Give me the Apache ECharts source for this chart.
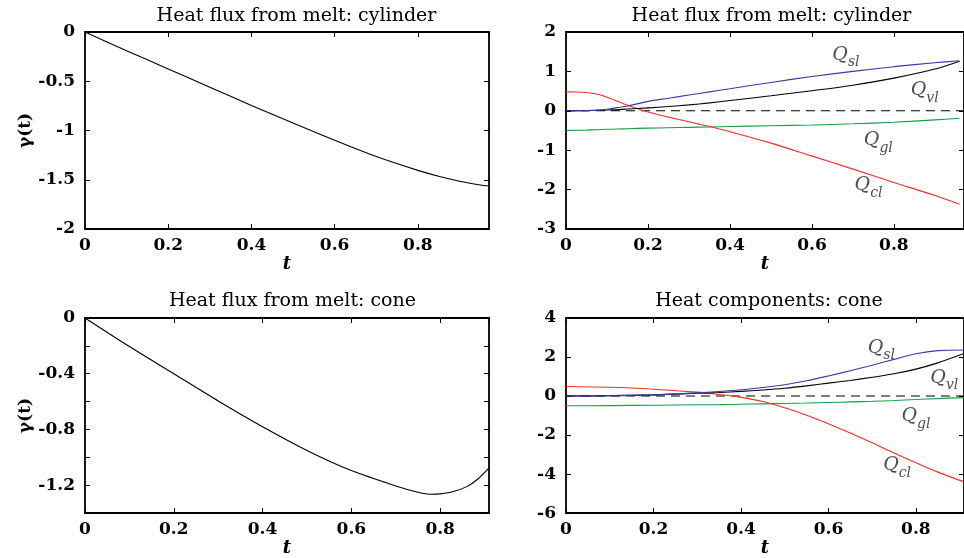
<!DOCTYPE html>
<html>
<head>
<meta charset="utf-8">
<script src="https://cdn.jsdelivr.net/npm/echarts@6/dist/echarts.min.js"></script>
<style>
  html, body { margin: 0; padding: 0; background: #fff; }
  #chart { width: 964px; height: 558px; }
</style>
</head>
<body>
<div id="chart"></div>
<script>
// ---- Heat flux from melt: cylinder (gamma) ----
const tCylGamma = [0, 0.1, 0.2, 0.3, 0.4, 0.5, 0.6, 0.7, 0.8, 0.85, 0.9, 0.95, 0.97];
const gammaCyl  = [0, -0.19, -0.375, -0.56, -0.745, -0.925, -1.10, -1.265, -1.405, -1.465, -1.515, -1.553, -1.563];

// ---- Heat flux from melt: cone (gamma) ----
const tConeGamma = [0, 0.1, 0.2, 0.3, 0.4, 0.5, 0.6, 0.7, 0.75, 0.78, 0.8, 0.83, 0.86, 0.885, 0.91];
const gammaCone  = [0, -0.205, -0.40, -0.595, -0.78, -0.95, -1.095, -1.205, -1.25, -1.265, -1.262, -1.245, -1.21, -1.155, -1.075];

// ---- Heat components: cylinder ----
const tCylQ = [0, 0.025, 0.05, 0.075, 0.1, 0.125, 0.15, 0.2, 0.25, 0.3, 0.35, 0.4, 0.5, 0.6, 0.7, 0.8, 0.9, 0.96];
const qslCyl = [0, 0.001, 0.005, 0.018, 0.04, 0.08, 0.12, 0.24, 0.32, 0.40, 0.48, 0.56, 0.72, 0.87, 1.00, 1.12, 1.22, 1.27];
const qvlCyl = [0, 0.001, 0.003, 0.01, 0.02, 0.03, 0.045, 0.075, 0.11, 0.15, 0.2, 0.26, 0.38, 0.51, 0.65, 0.83, 1.06, 1.26];
const qglCyl = [-0.50, -0.495, -0.49, -0.48, -0.47, -0.463, -0.455, -0.44, -0.43, -0.42, -0.41, -0.40, -0.38, -0.36, -0.33, -0.29, -0.23, -0.19];
const qclCyl = [0.48, 0.478, 0.465, 0.425, 0.345, 0.245, 0.14, -0.03, -0.16, -0.28, -0.40, -0.53, -0.82, -1.15, -1.48, -1.82, -2.15, -2.37];

// ---- Heat components: cone ----
const tConeQ = [0, 0.1, 0.2, 0.3, 0.35, 0.4, 0.45, 0.5, 0.55, 0.6, 0.65, 0.7, 0.75, 0.8, 0.85, 0.91];
const qslCone = [0, 0.02, 0.06, 0.16, 0.23, 0.32, 0.44, 0.58, 0.78, 1.03, 1.30, 1.58, 1.88, 2.17, 2.33, 2.36];
const qvlCone = [0, 0.02, 0.06, 0.14, 0.18, 0.24, 0.31, 0.40, 0.52, 0.66, 0.80, 0.96, 1.14, 1.38, 1.70, 2.18];
const qglCone = [-0.50, -0.49, -0.47, -0.45, -0.44, -0.42, -0.40, -0.38, -0.36, -0.33, -0.30, -0.27, -0.23, -0.18, -0.13, -0.08];
const qclCone = [0.49, 0.45, 0.35, 0.20, 0.08, -0.07, -0.28, -0.60, -0.98, -1.42, -1.90, -2.40, -2.92, -3.42, -3.90, -4.40];

// zero reference lines (t, value)
const zeroCylT = [0, 0.971];
const zeroConeT = [0, 0.91];
const zeroVals = [0, 0];

// curve annotations: name, subscript, t, value
const labelsCyl = [
  ['Q', 'sl', 0.683, 1.42],
  ['Q', 'vl', 0.875, 0.53],
  ['Q', 'gl', 0.762, -0.74],
  ['Q', 'cl', 0.738, -1.88]
];
const labelsCone = [
  ['Q', 'sl', 0.721, 2.47],
  ['Q', 'vl', 0.865, 0.94],
  ['Q', 'gl', 0.80, -1.05],
  ['Q', 'cl', 0.757, -3.55]
];

const titles = [
  'Heat flux from melt: cylinder',
  'Heat flux from melt: cylinder',
  'Heat flux from melt: cone',
  'Heat components: cone'
];

const SERIF = '"DejaVu Serif", "Liberation Serif", serif';
const COLORS = { sl: '#3a3aa8', vl: '#000000', gl: '#13a04a', cl: '#ff2a2a' };

const grids = [
  { left: 85, top: 32, width: 404, height: 197 },
  { left: 566, top: 32, width: 404, height: 197 },
  { left: 85, top: 318, width: 404, height: 196 },
  { left: 566, top: 318, width: 404, height: 196 }
];

const pairs = (ts, vs) => ts.map((t, i) => [t, vs[i]]);

function isStep(v, step) {
  const r = v / step;
  return Math.abs(r - Math.round(r)) < 1e-6;
}

const tickBase = {
  axisLine: { show: true, onZero: false, lineStyle: { color: '#000', width: 1.8 } },
  axisTick: { show: true, inside: true, length: 5, lineStyle: { color: '#000', width: 1 } },
  splitLine: { show: false }
};

const xAxes = [];
const yAxes = [];
const xSpecs = [
  { max: 0.971 }, { max: 0.971 }, { max: 0.91 }, { max: 0.91 }
];
const ySpecs = [
  { min: -2, max: 0, interval: 0.5, labelStep: 0.5, name: 'γ(t)' },
  { min: -3, max: 2, interval: 1, labelStep: 1, name: '' },
  { min: -1.4, max: 0, interval: 0.2, labelStep: 0.4, name: 'γ(t)' },
  { min: -6, max: 4, interval: 2, labelStep: 2, name: '' }
];

grids.forEach((g, i) => {
  const xs = xSpecs[i];
  xAxes.push(Object.assign({}, tickBase, {
    type: 'value', gridIndex: i, position: 'bottom', min: 0, max: xs.max, interval: 0.2,
    name: 't', nameLocation: 'middle', nameGap: 24,
    nameTextStyle: { fontFamily: SERIF, fontStyle: 'italic', fontWeight: 'bold', fontSize: 18, color: '#000' },
    axisLabel: {
      margin: 8, fontFamily: SERIF, fontWeight: 'bold', fontSize: 17, color: '#000',
      showMaxLabel: false,
      formatter: v => isStep(v, 0.2) && v <= 0.8 + 1e-9 ? String(+v.toFixed(1)) : ''
    }
  }));
  xAxes.push(Object.assign({}, tickBase, {
    type: 'value', gridIndex: i, position: 'top', min: 0, max: xs.max, interval: 0.2,
    axisLabel: { show: false }
  }));
  const ys = ySpecs[i];
  yAxes.push(Object.assign({}, tickBase, {
    type: 'value', gridIndex: i, position: 'left', min: ys.min, max: ys.max, interval: ys.interval,
    name: ys.name, nameLocation: 'middle', nameGap: 50, nameRotate: 90,
    nameTextStyle: { fontFamily: SERIF, fontWeight: 'bold', fontSize: 17, color: '#000' },
    axisLabel: {
      margin: 10, fontFamily: SERIF, fontWeight: 'bold', fontSize: 17, color: '#000',
      formatter: v => isStep(v, ys.labelStep) ? String(+v.toFixed(1)) : ''
    }
  }));
  yAxes.push(Object.assign({}, tickBase, {
    type: 'value', gridIndex: i, position: 'right', min: ys.min, max: ys.max, interval: ys.interval,
    axisLabel: { show: false }
  }));
});

function line(i, ts, vs, color, extra) {
  return Object.assign({
    type: 'line', xAxisIndex: 2 * i, yAxisIndex: 2 * i,
    data: pairs(ts, vs), smooth: 0.3, showSymbol: false, symbol: 'none',
    lineStyle: { color: color, width: 1.1 }, silent: true, animation: false, z: 3
  }, extra || {});
}

function annotations(i, list) {
  return {
    type: 'scatter', xAxisIndex: 2 * i, yAxisIndex: 2 * i,
    symbolSize: 0, silent: true, animation: false, z: 5,
    data: list.map(l => ({ value: [l[2], l[3]], main: l[0], sub: l[1] })),
    label: {
      show: true, position: 'inside',
      formatter: p => '{q|' + p.data.main + '}{s|' + p.data.sub + '}',
      rich: {
        q: { fontFamily: SERIF, fontStyle: 'italic', fontSize: 19, color: '#222', lineHeight: 24, verticalAlign: 'middle' },
        s: { fontFamily: SERIF, fontStyle: 'italic', fontSize: 14, color: '#222', lineHeight: 24, verticalAlign: 'bottom', padding: [0, 0, -3, 0] }
      }
    }
  };
}

const dashed = { smooth: false, lineStyle: { color: '#000', width: 1.1, type: [9, 6] }, z: 2 };

const series = [
  line(0, tCylGamma, gammaCyl, '#000'),
  line(2, tConeGamma, gammaCone, '#000'),

  line(1, zeroCylT, zeroVals, '#000', dashed),
  line(1, tCylQ, qglCyl, COLORS.gl),
  line(1, tCylQ, qclCyl, COLORS.cl),
  line(1, tCylQ, qvlCyl, COLORS.vl),
  line(1, tCylQ, qslCyl, COLORS.sl),
  annotations(1, labelsCyl),

  line(3, zeroConeT, zeroVals, '#000', dashed),
  line(3, tConeQ, qglCone, COLORS.gl),
  line(3, tConeQ, qclCone, COLORS.cl),
  line(3, tConeQ, qvlCone, COLORS.vl),
  line(3, tConeQ, qslCone, COLORS.sl),
  annotations(3, labelsCone)
];

const titleCenters = [291.5, 766.5, 287.5, 764];
const titleTops = [2, 2, 287, 287];

const chart = echarts.init(document.getElementById('chart'), null, { renderer: 'canvas' });
chart.setOption({
  backgroundColor: '#fff',
  animation: false,
  title: titles.map((t, i) => ({
    text: t, left: titleCenters[i], top: titleTops[i], textAlign: 'center',
    textStyle: { fontFamily: SERIF, fontWeight: 'normal', fontSize: 19, color: '#000' }
  })),
  grid: grids.map(g => Object.assign({ containLabel: false }, g)),
  xAxis: xAxes,
  yAxis: yAxes,
  series: series
});
</script>
</body>
</html>
